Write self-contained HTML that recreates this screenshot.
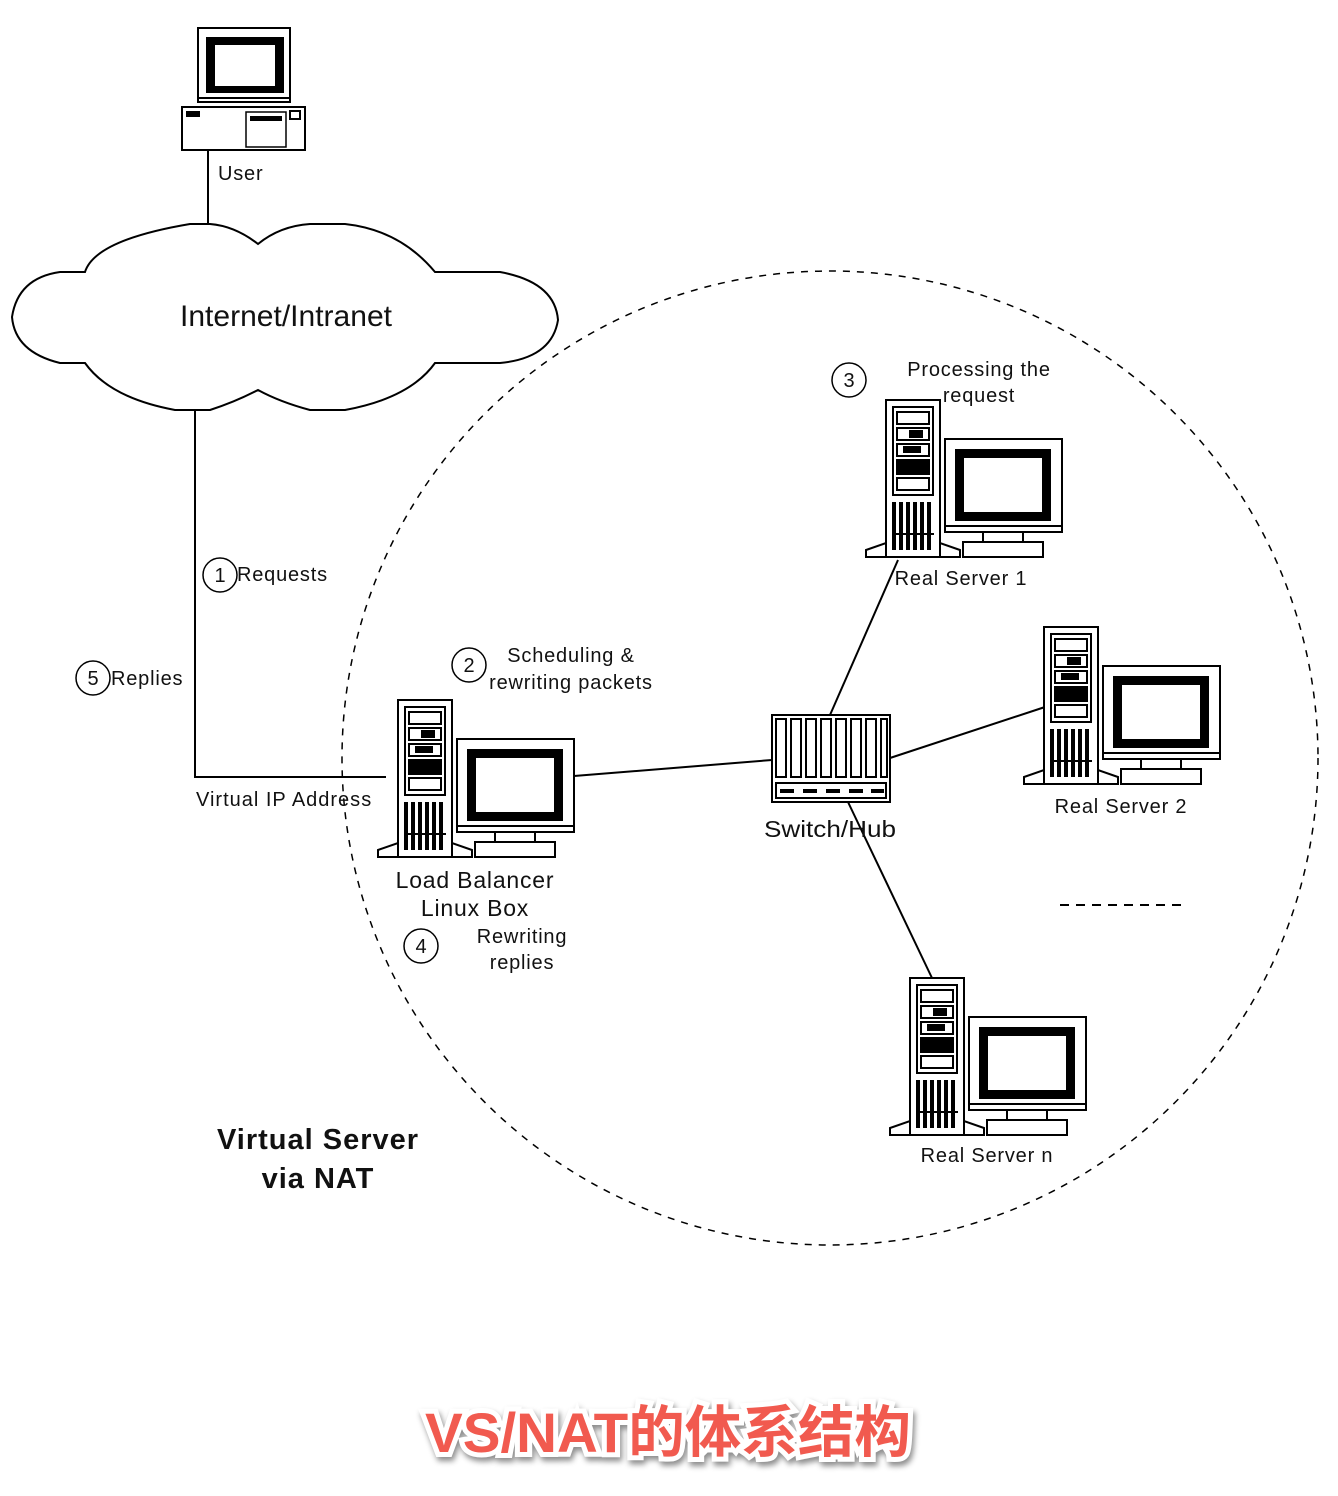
<!DOCTYPE html>
<html><head><meta charset="utf-8"><style>
html,body{margin:0;padding:0;background:#fff;}
svg{display:block;}
text{font-family:"Liberation Sans",sans-serif;fill:#111;}
</style></head><body>
<svg width="1338" height="1496" viewBox="0 0 1338 1496" xmlns="http://www.w3.org/2000/svg">
<defs>
<g id="srv" stroke="#000" stroke-width="2" fill="#fff">
  <polygon points="0,157 0,150 20,143 20,157"/>
  <polygon points="74,157 74,143 94,150 94,157"/>
  <rect x="20" y="0" width="54" height="157"/>
  <rect x="27" y="7" width="40" height="88"/>
  <rect x="31" y="12" width="32" height="12"/>
  <rect x="31" y="28" width="32" height="12"/>
  <rect x="44" y="31" width="12" height="6" fill="#000"/>
  <rect x="31" y="44" width="32" height="12"/>
  <rect x="38" y="47" width="16" height="5" fill="#000"/>
  <rect x="31" y="60" width="32" height="14" fill="#000"/>
  <rect x="31" y="78" width="32" height="12"/>
  <g stroke="none" fill="#000">
    <rect x="26" y="102" width="4" height="48"/><rect x="33" y="102" width="4" height="48"/>
    <rect x="40" y="102" width="4" height="48"/><rect x="47" y="102" width="4" height="48"/>
    <rect x="54" y="102" width="4" height="48"/><rect x="61" y="102" width="4" height="48"/>
    <rect x="26" y="133" width="42" height="2"/>
  </g>
  <rect x="79" y="39" width="117" height="93"/>
  <rect x="89" y="49" width="96" height="72" fill="#000" stroke="none"/>
  <rect x="98" y="58" width="78" height="54" fill="#fff" stroke="none"/>
  <line x1="79" y1="126" x2="196" y2="126"/>
  <rect x="117" y="132" width="40" height="10"/>
  <rect x="97" y="142" width="80" height="15"/>
</g>
</defs>

<ellipse cx="830" cy="758" rx="488" ry="487" fill="none" stroke="#000" stroke-width="1.5" stroke-dasharray="7,7"/>

<g stroke="#000" stroke-width="2" fill="#fff">
  <rect x="198" y="28" width="92" height="74"/>
  <rect x="206" y="37" width="78" height="56" fill="#000" stroke="none"/>
  <rect x="215" y="45" width="60" height="41" fill="#fff" stroke="none"/>
  <line x1="198" y1="98" x2="290" y2="98"/>
  <rect x="182" y="107" width="123" height="43"/>
  <rect x="186" y="111" width="14" height="6" fill="#000" stroke="none"/>
  <rect x="246" y="112" width="40" height="35" stroke-width="1.5"/>
  <rect x="250" y="116" width="32" height="5" fill="#000" stroke="none"/>
  <rect x="290" y="111" width="10" height="8"/>
</g>
<text x="218" y="180" font-size="20" letter-spacing="0.8">User</text>
<line x1="208" y1="150" x2="208" y2="224" stroke="#000" stroke-width="2"/>

<path d="M85,272 Q95,240 190,224 L210,224 Q235,226 258,244 Q280,226 310,224 L345,224 Q400,230 435,272 L500,272 Q555,282 558,320 Q552,358 500,363 L435,363 Q410,398 345,410 L310,410 Q280,402 258,390 Q235,402 210,410 L175,410 Q110,398 85,363 L60,363 Q15,352 12,317 Q18,278 60,272 Z" fill="#fff" stroke="#000" stroke-width="2"/>
<text x="286" y="326" font-size="30" text-anchor="middle" textLength="212" lengthAdjust="spacingAndGlyphs">Internet/Intranet</text>

<g stroke="#000" stroke-width="2" fill="none">
  <polyline points="195,410 195,777 386,777"/>
  <line x1="574" y1="776" x2="772" y2="760"/>
  <line x1="830" y1="715" x2="898" y2="560"/>
  <line x1="890" y1="758" x2="1045" y2="707"/>
  <line x1="848" y1="802" x2="932" y2="978"/>
  <line x1="1060" y1="905" x2="1185" y2="905" stroke-dasharray="9,7"/>
</g>

<g stroke="#000" stroke-width="2" fill="#fff">
  <rect x="772" y="715" width="118" height="87"/>
  <rect x="776" y="719" width="10" height="58"/><rect x="791" y="719" width="10" height="58"/>
  <rect x="806" y="719" width="10" height="58"/><rect x="821" y="719" width="10" height="58"/>
  <rect x="836" y="719" width="10" height="58"/><rect x="851" y="719" width="10" height="58"/>
  <rect x="866" y="719" width="10" height="58"/><rect x="881" y="719" width="6" height="58"/>
  <rect x="776" y="783" width="110" height="15"/>
  <g fill="#000" stroke="none">
    <rect x="780" y="789" width="14" height="4"/><rect x="803" y="789" width="14" height="4"/>
    <rect x="826" y="789" width="14" height="4"/><rect x="849" y="789" width="14" height="4"/>
    <rect x="871" y="789" width="13" height="4"/>
  </g>
</g>
<text x="830" y="837" font-size="23" text-anchor="middle" textLength="132" lengthAdjust="spacingAndGlyphs">Switch/Hub</text>

<use href="#srv" x="378" y="700"/>
<use href="#srv" x="866" y="400"/>
<use href="#srv" x="1024" y="627"/>
<use href="#srv" x="890" y="978"/>

<g fill="none" stroke="#000" stroke-width="1.5">
  <circle cx="220" cy="575" r="17"/>
  <circle cx="93" cy="678" r="17"/>
  <circle cx="469" cy="665" r="17"/>
  <circle cx="849" cy="380" r="17"/>
  <circle cx="421" cy="946" r="17"/>
</g>
<g font-size="20" text-anchor="middle">
  <text x="220" y="582">1</text>
  <text x="93" y="685">5</text>
  <text x="469" y="672">2</text>
  <text x="849" y="387">3</text>
  <text x="421" y="953">4</text>
</g>

<g font-size="20" letter-spacing="0.8">
  <text x="237" y="581">Requests</text>
  <text x="111" y="685">Replies</text>
  <text x="196" y="806" textLength="176" lengthAdjust="spacing">Virtual IP Address</text>
  <text x="571" y="662" text-anchor="middle">Scheduling &amp;</text>
  <text x="571" y="689" text-anchor="middle">rewriting packets</text>
  <text x="979" y="376" text-anchor="middle">Processing the</text>
  <text x="979" y="402" text-anchor="middle">request</text>
  <text x="961" y="585" text-anchor="middle">Real Server 1</text>
  <text x="1121" y="813" text-anchor="middle">Real Server 2</text>
  <text x="987" y="1162" text-anchor="middle">Real Server n</text>
  <text x="522" y="943" text-anchor="middle">Rewriting</text>
  <text x="522" y="969" text-anchor="middle">replies</text>
</g>
<g font-size="23" text-anchor="middle" letter-spacing="0.8">
  <text x="475" y="888">Load Balancer</text>
  <text x="475" y="916">Linux Box</text>
</g>
<g font-size="29" font-weight="bold" text-anchor="middle" letter-spacing="1">
  <text x="318" y="1149">Virtual Server</text>
  <text x="318" y="1188">via NAT</text>
</g>

<text x="668" y="1452" font-size="56" font-weight="bold" text-anchor="middle" style="font-family:'Liberation Sans','Noto Sans CJK SC',sans-serif;fill:#f15a4f;stroke:#fff;stroke-width:10;paint-order:stroke;filter:drop-shadow(2px 4px 3px rgba(0,0,0,0.45));" textLength="486" lengthAdjust="spacingAndGlyphs">VS/NAT的体系结构</text>
</svg>
</body></html>
